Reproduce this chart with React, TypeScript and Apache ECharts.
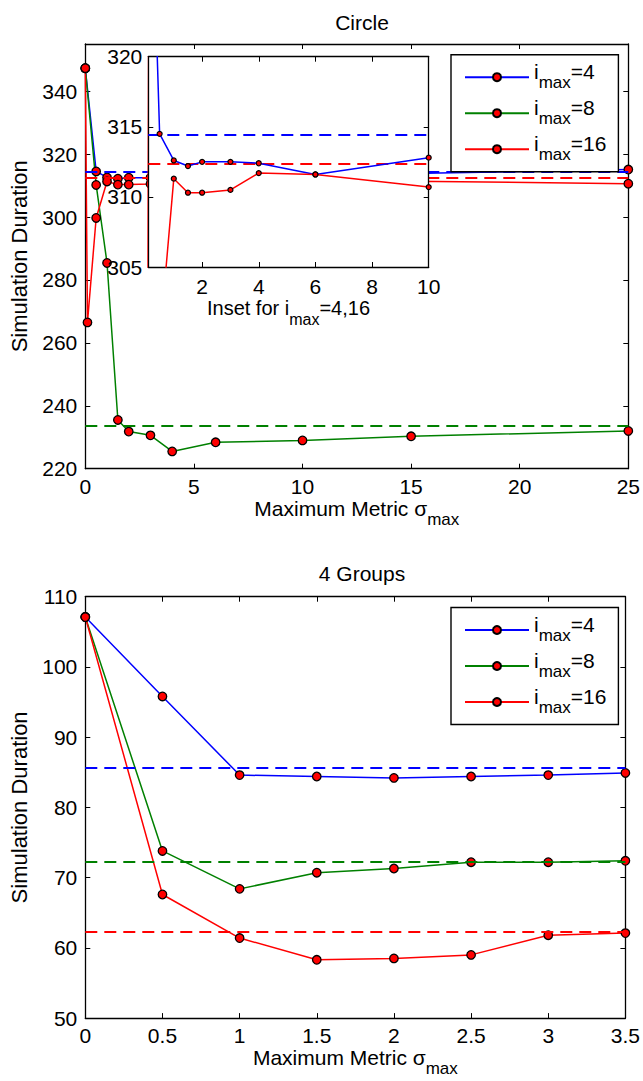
import React, { useEffect, useRef } from "react";
import * as echarts from "echarts";

// ---- Circle (top) ----
const circleBlueX = [0, 0.5, 1, 1.5, 2, 3, 4, 6, 10, 15, 25];
const circleBlueY = [347.3, 314.5, 312.6, 312.2, 312.5, 312.5, 312.4, 311.6, 312.8, 313.8, 315.1];
const circleGreenX = [0, 0.5, 1, 1.5, 2, 3, 4, 6, 10, 15, 25];
const circleGreenY = [347.3, 310.2, 285.4, 235.5, 231.8, 230.6, 225.5, 228.4, 229.0, 230.3, 232.0];
const circleRedX = [0, 0.1, 0.5, 1, 1.5, 2, 3, 4, 6, 10, 15, 25];
const circleRedY = [347.3, 266.5, 299.7, 311.3, 310.3, 310.3, 310.5, 311.7, 311.6, 310.7, 311.4, 310.6];
const circleDashed = [314.4, 233.8, 312.4]; // blue, green, red

// ---- 4 Groups (bottom) ----
const groupsX = [0, 0.5, 1, 1.5, 2, 2.5, 3, 3.5];
const groupsBlueY = [107.1, 95.8, 84.6, 84.4, 84.2, 84.4, 84.6, 84.9];
const groupsGreenY = [107.1, 73.8, 68.4, 70.7, 71.3, 72.2, 72.2, 72.4];
const groupsRedY = [107.1, 67.6, 61.4, 58.3, 58.5, 59.0, 61.8, 62.1];
const groupsDashed = [85.6, 72.3, 62.3];

const insetTicks = [2, 4, 6, 8, 10];
const seriesNames = ["imax=4", "imax=8", "imax=16"];
const seriesLabels = ["4", "8", "16"];
const colors = ["#0000ff", "#008000", "#ff0000"];

const FONT = '"Liberation Sans", Arial, Helvetica, sans-serif';
const TICK = 21;

const pair = (xs: number[], ys: number[]) => xs.map((x, i) => [x, ys[i]]);

// main text raised by b/2, subscript lowered by p/2 relative to block centre
const subRich = (main: number, sub: number, b: number, p: number) => ({
  a: { fontSize: main, lineHeight: main, padding: [0, 0, b, 0], fontFamily: FONT, color: "#000" },
  s: { fontSize: sub, lineHeight: sub, padding: [p, 0, 0, 0], fontFamily: FONT, color: "#000" },
});

const axisBase = (extra: any) => ({
  type: "value",
  axisLine: { show: true, onZero: false, lineStyle: { color: "#000", width: 1.3 } },
  axisTick: { show: true, inside: true, length: 5, lineStyle: { color: "#000", width: 1 } },
  splitLine: { show: false },
  axisLabel: { color: "#000", fontSize: TICK, fontFamily: FONT, margin: 7 },
  ...extra,
});

function App() {
  const ref = useRef<HTMLDivElement>(null);
  useEffect(() => {
    if (!ref.current) return;
    const chart = echarts.init(ref.current, undefined, { renderer: "svg" });

    const dashStyle = (color: string) => ({ color, type: [12, 7], width: 1.8 });

    const mainSeries = (
      name: string,
      data: number[][],
      color: string,
      dashed: number,
      xi: number,
      yi: number
    ) => ({
      type: "line",
      name,
      data,
      xAxisIndex: xi,
      yAxisIndex: yi,
      symbol: "circle",
      symbolSize: 8.5,
      z: 2,
      lineStyle: { color, width: 1.5 },
      itemStyle: { color: "#ff0000", borderColor: "#000", borderWidth: 1.3 },
      markLine: {
        silent: true,
        z: 3,
        symbol: ["none", "none"],
        label: { show: false },
        lineStyle: dashStyle(color),
        data: [{ yAxis: dashed }],
      },
    });

    const insetSeries = (name: string, data: number[][], color: string, dashed: number) => ({
      type: "line",
      name,
      data,
      xAxisIndex: 2,
      yAxisIndex: 2,
      symbol: "circle",
      symbolSize: 5,
      z: 12,
      clip: true,
      lineStyle: { color, width: 1.5 },
      itemStyle: { color: "#ff0000", borderColor: "#000", borderWidth: 1.2 },
      markLine: {
        silent: true,
        z: 12,
        symbol: ["none", "none"],
        label: { show: false },
        lineStyle: dashStyle(color),
        data: [{ yAxis: dashed }],
      },
    });

    const legendCfg = (top: number) => ({
      orient: "vertical",
      left: 451,
      top,
      z: 20,
      padding: [6, 12, 6, 13],
      itemGap: 3,
      itemWidth: 64,
      itemHeight: 10,
      backgroundColor: "#fff",
      borderColor: "#000",
      borderWidth: 1.4,
      borderRadius: 0,
      data: seriesNames,
      formatter: (name: string) => {
        const i = seriesNames.indexOf(name);
        return `{a|i}{s|max}{a|=${seriesLabels[i]}}`;
      },
      textStyle: { rich: subRich(21, 17, 12, 10) },
    });

    const option: any = {
      animation: false,
      backgroundColor: "#fff",
      title: [
        {
          text: "Circle",
          left: 357,
          top: 7,
          textAlign: "center",
          textStyle: { fontSize: 21, fontWeight: "normal", fontFamily: FONT, color: "#000" },
        },
        {
          text: "4 Groups",
          left: 357,
          top: 558,
          textAlign: "center",
          textStyle: { fontSize: 21, fontWeight: "normal", fontFamily: FONT, color: "#000" },
        },
      ],
      legend: [legendCfg(54.7), legendCfg(607.5)],
      grid: [
        { left: 85.3, top: 44, width: 543.4, height: 424.7, z: 0 },
        {
          left: 148.3,
          top: 56.7,
          width: 280.4,
          height: 210.3,
          show: true,
          backgroundColor: "#fff",
          borderWidth: 0,
          z: 10,
        },
        { left: 85.3, top: 596.7, width: 543.4, height: 424, z: 0 },
      ],
      xAxis: [
        axisBase({
          gridIndex: 0,
          position: "bottom",
          min: 0,
          max: 25,
          interval: 5,
          name: "{a|Maximum Metric σ}{s|max}",
          nameLocation: "middle",
          nameGap: 32,
          nameTextStyle: { rich: subRich(21, 17, 12, 10) },
        }),
        axisBase({
          gridIndex: 0,
          position: "top",
          min: 0,
          max: 25,
          interval: 5,
          axisLabel: { show: false },
        }),
        axisBase({
          gridIndex: 1,
          position: "bottom",
          min: 0.1,
          max: 10,
          z: 11,
          axisLabel: { color: "#000", fontSize: TICK, fontFamily: FONT, margin: 9, customValues: insetTicks },
          axisTick: {
            show: true,
            inside: true,
            length: 5,
            lineStyle: { color: "#000" },
            customValues: insetTicks,
          },
          name: "{a|Inset for i}{s|max}{a|=4,16}",
          nameLocation: "middle",
          nameGap: 30,
          nameTextStyle: { rich: subRich(20, 16, 12, 12) },
        }),
        axisBase({
          gridIndex: 1,
          position: "top",
          min: 0.1,
          max: 10,
          z: 11,
          axisLabel: { show: false, customValues: insetTicks },
          axisTick: {
            show: true,
            inside: true,
            length: 5,
            lineStyle: { color: "#000" },
            customValues: insetTicks,
          },
        }),
        axisBase({
          gridIndex: 2,
          position: "bottom",
          min: 0,
          max: 3.5,
          interval: 0.5,
          name: "{a|Maximum Metric σ}{s|max}",
          nameLocation: "middle",
          nameGap: 32,
          nameTextStyle: { rich: subRich(21, 17, 12, 10) },
        }),
        axisBase({
          gridIndex: 2,
          position: "top",
          min: 0,
          max: 3.5,
          interval: 0.5,
          axisLabel: { show: false },
        }),
      ],
      yAxis: [
        axisBase({
          gridIndex: 0,
          position: "left",
          min: 220,
          max: 355,
          interval: 20,
          axisLabel: { color: "#000", fontSize: TICK, fontFamily: FONT, margin: 8, showMaxLabel: false },
          name: "Simulation Duration",
          nameLocation: "middle",
          nameGap: 55,
          nameTextStyle: { fontSize: 22, fontFamily: FONT, color: "#000" },
        }),
        axisBase({
          gridIndex: 0,
          position: "right",
          min: 220,
          max: 355,
          interval: 20,
          axisLabel: { show: false },
        }),
        axisBase({
          gridIndex: 1,
          position: "left",
          min: 305,
          max: 320,
          interval: 5,
          z: 11,
          axisLabel: { color: "#000", fontSize: TICK, fontFamily: FONT, margin: 6 },
        }),
        axisBase({
          gridIndex: 1,
          position: "right",
          min: 305,
          max: 320,
          interval: 5,
          z: 11,
          axisLabel: { show: false },
        }),
        axisBase({
          gridIndex: 2,
          position: "left",
          min: 50,
          max: 110,
          interval: 10,
          axisLabel: { color: "#000", fontSize: TICK, fontFamily: FONT, margin: 8 },
          name: "Simulation Duration",
          nameLocation: "middle",
          nameGap: 55,
          nameTextStyle: { fontSize: 22, fontFamily: FONT, color: "#000" },
        }),
        axisBase({
          gridIndex: 2,
          position: "right",
          min: 50,
          max: 110,
          interval: 10,
          axisLabel: { show: false },
        }),
      ],
      series: [
        mainSeries(seriesNames[0], pair(circleBlueX, circleBlueY), colors[0], circleDashed[0], 0, 0),
        mainSeries(seriesNames[1], pair(circleGreenX, circleGreenY), colors[1], circleDashed[1], 0, 0),
        mainSeries(seriesNames[2], pair(circleRedX, circleRedY), colors[2], circleDashed[2], 0, 0),
        insetSeries("inset imax=4", pair(circleBlueX, circleBlueY), colors[0], circleDashed[0]),
        insetSeries("inset imax=16", pair(circleRedX, circleRedY), colors[2], circleDashed[2]),
        mainSeries(seriesNames[0], pair(groupsX, groupsBlueY), colors[0], groupsDashed[0], 4, 4),
        mainSeries(seriesNames[1], pair(groupsX, groupsGreenY), colors[1], groupsDashed[1], 4, 4),
        mainSeries(seriesNames[2], pair(groupsX, groupsRedY), colors[2], groupsDashed[2], 4, 4),
      ],
    };

    chart.setOption(option);
    return () => chart.dispose();
  }, []);

  return (
    <div
      ref={ref}
      style={{ position: "absolute", left: 0, top: 0, width: 643, height: 1081, background: "#fff" }}
    />
  );
}

export default App;
